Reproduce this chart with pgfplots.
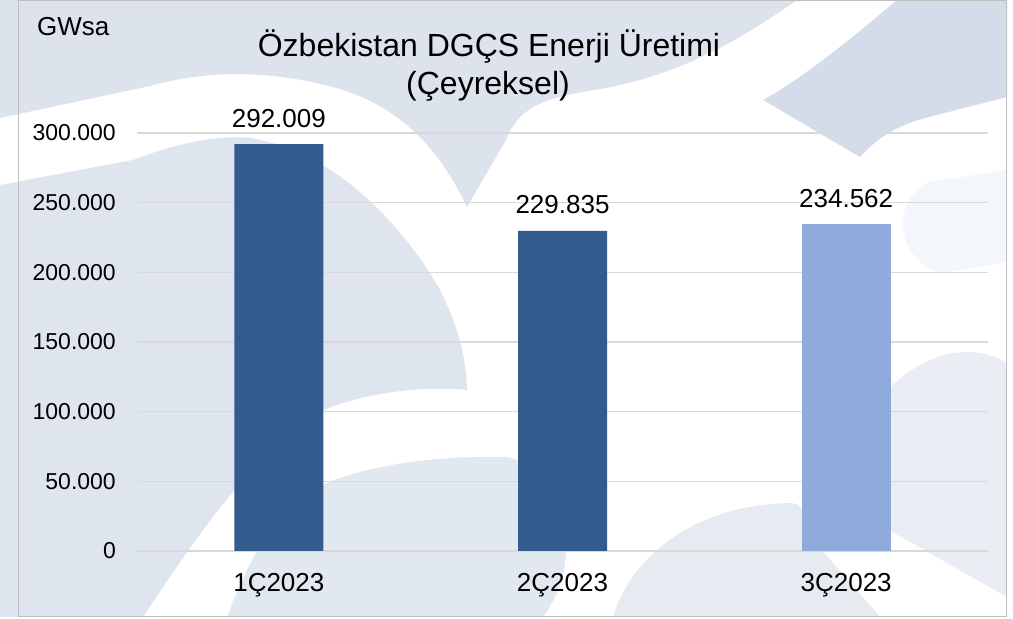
\documentclass[border=0pt]{standalone}
\usepackage{fontspec}
\setmainfont{Liberation Sans}
\usepackage{pgfplots}
\pgfplotsset{compat=1.18}
\usepackage{pgfplotstable}
\definecolor{barDark}{RGB}{52,91,141}
\definecolor{barLight}{RGB}{143,171,220}
\definecolor{gridc}{RGB}{217,217,217}
\definecolor{framec}{RGB}{191,191,191}
\definecolor{bgA}{RGB}{220,227,237}
\definecolor{bgB}{RGB}{223,229,238}
\definecolor{bgC}{RGB}{226,232,240}
\definecolor{bgDome}{RGB}{230,235,242}
\definecolor{bgF}{RGB}{234,238,244}
\definecolor{bgD}{RGB}{211,220,232}
\definecolor{bgE}{RGB}{243,246,250}
\pgfplotstableread{
x y label
0 292009 292.009
1 229835 229.835
}\dataA
\pgfplotstableread{
x y label
2 234562 234.562
}\dataB
\begin{document}
\begin{tikzpicture}
\useasboundingbox (0,0) rectangle (1013bp,619bp);
\fill[white] (0,0) rectangle (1013bp,619bp);
\begin{scope}[x=1bp,y=-1bp,yshift=619bp]
  % decorative watermark shapes (background)
  \fill[bgA] (0,0) -- (797,0) .. controls (740,40) and (680,75) .. (600,89)
     .. controls (545,98) and (520,105) .. (506,140) -- (467,207)
     .. controls (440,150) and (400,105) .. (333,87)
     .. controls (260,68) and (200,72) .. (150,86) -- (0,118) -- cycle;
  \fill[bgB] (0,185) -- (133,160) .. controls (180,142) and (220,135) .. (250,138)
     .. controls (330,150) and (400,220) .. (440,290)
     .. controls (460,330) and (466,360) .. (467,390)
     .. controls (420,386) and (370,392) .. (323,410)
     .. controls (270,440) and (220,500) .. (143,617) -- (0,617) -- cycle;
  \fill[bgC] (227,617) .. controls (245,570) and (260,540) .. (290,505)
     .. controls (330,470) and (420,455) .. (506,457)
     .. controls (540,462) and (560,500) .. (566,547)
     .. controls (566,580) and (555,600) .. (543,617) -- cycle;
  \fill[bgDome] (613,617) .. controls (630,560) and (690,505) .. (790,503)
     .. controls (805,503) and (812,525) .. (820,548) -- (880,617) -- cycle;
  \fill[bgF] (850,445) .. controls (880,380) and (930,352) .. (966,352)
     .. controls (985,352) and (1000,358) .. (1007,363) -- (1007,597)
     -- (889,530) -- (850,508) -- cycle;
  \fill[bgD] (897,0) .. controls (850,40) and (800,80) .. (763,100) -- (860,157)
     .. controls (880,135) and (900,125) .. (925,118) -- (1007,97) -- (1007,0) -- cycle;
  \fill[bgE] (1007,170) -- (930,182) .. controls (895,195) and (890,255) .. (940,273)
     -- (1007,262) -- cycle;
  \draw[framec, line width=1.5bp] (18.5,0.75) rectangle (1006.5,616.5);
\end{scope}
\node[anchor=base, inner sep=0pt, font=\fontsize{32bp}{36bp}\selectfont] at (489bp,562bp) {Özbekistan DGÇS Enerji Üretimi};
\node[anchor=base, inner sep=0pt, font=\fontsize{32bp}{36bp}\selectfont] at (488bp,524bp) {(Çeyreksel)};
\node[anchor=base west, inner sep=0pt, font=\fontsize{26bp}{30bp}\selectfont] at (37bp,583bp) {GWsa};
\begin{axis}[
  at={(137bp,68bp)}, anchor=south west,
  scale only axis, width=851bp, height=418bp,
  xmin=-0.5, xmax=2.5, ymin=0, ymax=300000,
  axis line style={draw=none},
  major tick length=0pt,
  ytick={0,50000,100000,150000,200000,250000,300000},
  yticklabels={0,50.000,100.000,150.000,200.000,250.000,300.000},
  xtick={0,1,2}, xticklabels={1Ç2023,2Ç2023,3Ç2023},
  ymajorgrids, grid style={gridc, line width=1.5bp},
  yticklabel style={font=\fontsize{23bp}{27bp}\selectfont, anchor=east, inner sep=0pt, xshift=-21bp},
  xticklabel style={font=\fontsize{26bp}{30bp}\selectfont, anchor=base, inner sep=0pt, yshift=-41bp},
  ybar, bar width=89bp, bar shift=0pt,
  clip=false,
  nodes near coords, point meta=explicit symbolic,
  nodes near coords style={font=\fontsize{26bp}{30bp}\selectfont, anchor=base, inner sep=0pt, yshift=17bp, black},
  scaled y ticks=false,
]
\addplot[fill=barDark, draw=none] table[x=x,y=y,meta=label]{\dataA};
\addplot[fill=barLight, draw=none] table[x=x,y=y,meta=label]{\dataB};
\end{axis}
\end{tikzpicture}
\end{document}
